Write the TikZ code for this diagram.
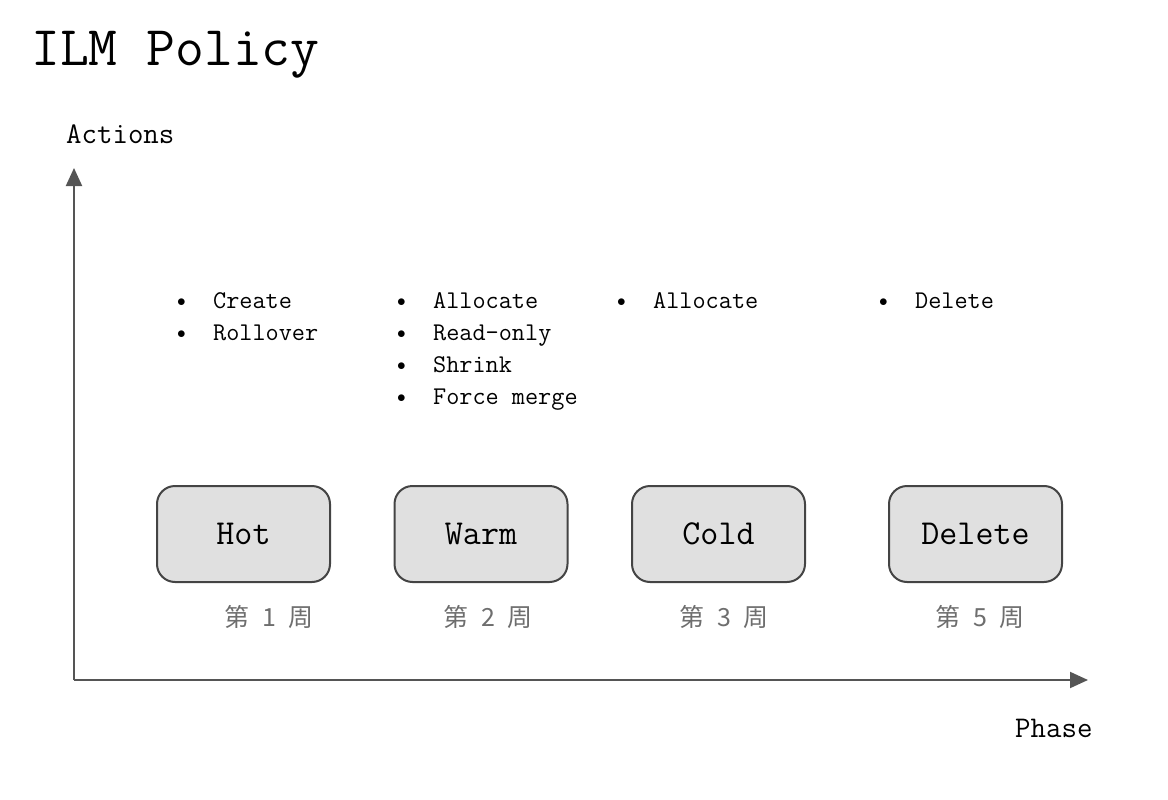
\documentclass[tikz,border=0pt]{standalone}
\usepackage{fontspec}
\usetikzlibrary{arrows.meta,positioning}
\newfontfamily\cjk{Noto Sans CJK SC}

\definecolor{axisgray}{HTML}{555555}
\definecolor{boxfill}{HTML}{E0E0E0}
\definecolor{boxline}{HTML}{444444}
\definecolor{weekgray}{HTML}{6E6E6E}

\tikzset{
  phasebox/.style={draw=boxline, fill=boxfill, line width=2pt, rounded corners=18pt,
                   minimum width=173pt, minimum height=96pt,
                   font=\ttfamily\fontsize{35}{35}\selectfont},
  weeklabel/.style={text=weekgray, font=\cjk\fontsize{25}{25}\selectfont},
  actionlist/.style={anchor=base west, inner sep=0pt,
                     font=\ttfamily\fontsize{25.5}{32}\selectfont},
  axisline/.style={draw=axisgray, line width=2pt,
                   -{Triangle[length=18pt,width=16pt]}},
}
\newcommand{\actitem}[1]{\makebox[36pt][l]{\raisebox{2pt}{\fontsize{17}{17}\selectfont$\bullet$}}#1}
\newcommand{\weektext}[1]{第\hspace{13pt}#1\hspace{13pt}周}

\begin{document}
\begin{tikzpicture}[x=1pt, y=-1pt]
    \useasboundingbox (0,0) rectangle (1168,800);

    % Title and axis labels
    \node[anchor=base west, inner sep=0pt, font=\ttfamily\fontsize{56}{56}\selectfont]
          (title) at (31,66) {ILM Policy};
    \node[anchor=base west, inner sep=0pt, font=\ttfamily\fontsize{30}{30}\selectfont]
          (ylabel) at (66,143) {Actions};
    \node[anchor=base west, inner sep=0pt, font=\ttfamily\fontsize{30}{30}\selectfont]
          (xlabel) at (1015,737) {Phase};

    % Axes
    \coordinate (origin) at (74,680);
    \coordinate (ytip) at (74,168);
    \coordinate (xtip) at (1088,680);
    \draw[axisline] (origin) -- (ytip);
    \draw[axisline] (origin) -- (xtip);

    % Hot
    \node[phasebox] (hot) at (243.5,534) {Hot};
    \node[weeklabel] (hotweek) at (269,617) {\weektext{1}};
    \node[actionlist] (hotacts) at (177,308) {\begin{tabular}[t]{@{}l@{}}
        \actitem{Create}\\ \actitem{Rollover}\end{tabular}};

    % Warm
    \node[phasebox] (warm) at (481,534) {Warm};
    \node[weeklabel] (warmweek) at (488,617) {\weektext{2}};
    \node[actionlist] (warmacts) at (397,308) {\begin{tabular}[t]{@{}l@{}}
        \actitem{Allocate}\\ \actitem{Read-only}\\ \actitem{Shrink}\\
        \actitem{Force merge}\end{tabular}};

    % Cold
    \node[phasebox] (cold) at (718.5,534) {Cold};
    \node[weeklabel] (coldweek) at (724,617) {\weektext{3}};
    \node[actionlist] (coldacts) at (617,308) {\begin{tabular}[t]{@{}l@{}}
        \actitem{Allocate}\end{tabular}};

    % Delete
    \node[phasebox] (delete) at (975.5,534) {Delete};
    \node[weeklabel] (deleteweek) at (980,617) {\weektext{5}};
    \node[actionlist] (deleteacts) at (879,308) {\begin{tabular}[t]{@{}l@{}}
        \actitem{Delete}\end{tabular}};
\end{tikzpicture}
\end{document}
